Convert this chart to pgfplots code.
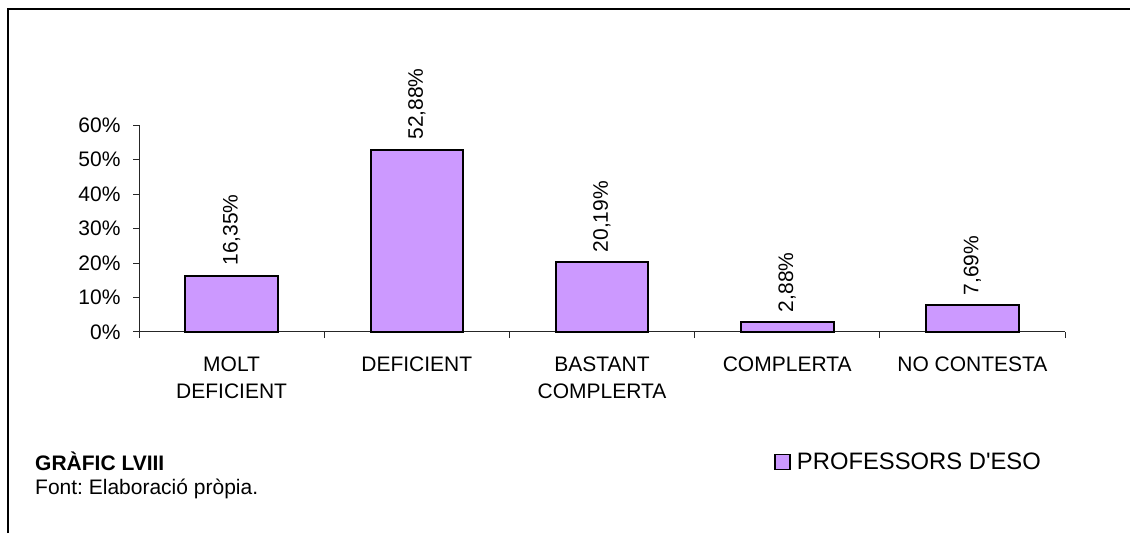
\documentclass[border=0pt]{standalone}
\usepackage{pgfplots}
\pgfplotsset{compat=1.18}
\usepackage{fontspec}
\setmainfont{Liberation Sans}[Ligatures=TeXOff]
\frenchspacing
\definecolor{barfill}{HTML}{CC99FF}
\newcommand{\fs}{\fontsize{21}{26}\selectfont}
\begin{document}
\begin{tikzpicture}
\path[use as bounding box] (0pt,0pt) rectangle (1130pt,533pt);
\draw[line width=2pt] (8pt,0pt) -- (8pt,523.5pt) -- (1130pt,523.5pt);
\begin{axis}[
  at={(139pt,201pt)}, anchor=south west,
  scale only axis, width=926pt, height=207pt,
  xmin=-0.5, xmax=4.5, ymin=0, ymax=60,
  clip=false,
  axis lines*=left,
  axis line style={line width=1pt, black!85},
  /pgf/number format/assume math mode=true,
  ytick={0,10,...,60},
  yticklabel={\pgfmathprintnumber{\tick}\%},
  yticklabel style={font=\fs, xshift=-9pt},
  xtick={-0.5,0.5,1.5,2.5,3.5,4.5}, xticklabels={},
  extra x ticks={0,1,2,3,4},
  extra x tick labels={{MOLT\\DEFICIENT},DEFICIENT,{BASTANT\\COMPLERTA},COMPLERTA,NO CONTESTA},
  extra x tick style={major tick length=0pt},
  xticklabel style={font=\fontsize{21}{27}\selectfont, align=center, yshift=-21pt},
  tick align=outside, major tick length=6pt,
  tick style={line width=1pt, black!85},
  legend style={at={(0.686,-0.628)}, anchor=west, draw=none, fill=none, font=\fontsize{23.8}{28}\selectfont, inner sep=0pt, column sep=4pt},
  legend image code/.code={\draw[fill=barfill, draw=black, line width=1.5pt] (0pt,-7.5pt) rectangle (15pt,7.5pt);},
]
\addplot[ybar, bar width=0.5, fill=barfill, draw=black, line width=2pt,
  nodes near coords={\pgfmathprintnumber[fixed,fixed zerofill,precision=2,use comma]{\pgfplotspointmeta}\%},
  nodes near coords style={font=\fs, rotate=90, anchor=west, inner sep=0pt, xshift=9pt}]
  coordinates {(0,16.35) (1,52.88) (2,20.19) (3,2.88) (4,7.69)};
\addlegendentry{PROFESSORS D'ESO}
\end{axis}
\node[anchor=base west, font=\bfseries\fs, inner sep=0pt] at (35pt,63pt) {GRÀFIC LVIII};
\node[anchor=base west, font=\fs, inner sep=0pt] at (35pt,38pt) {Font: Elaboració pròpia.};
\end{tikzpicture}
\end{document}
